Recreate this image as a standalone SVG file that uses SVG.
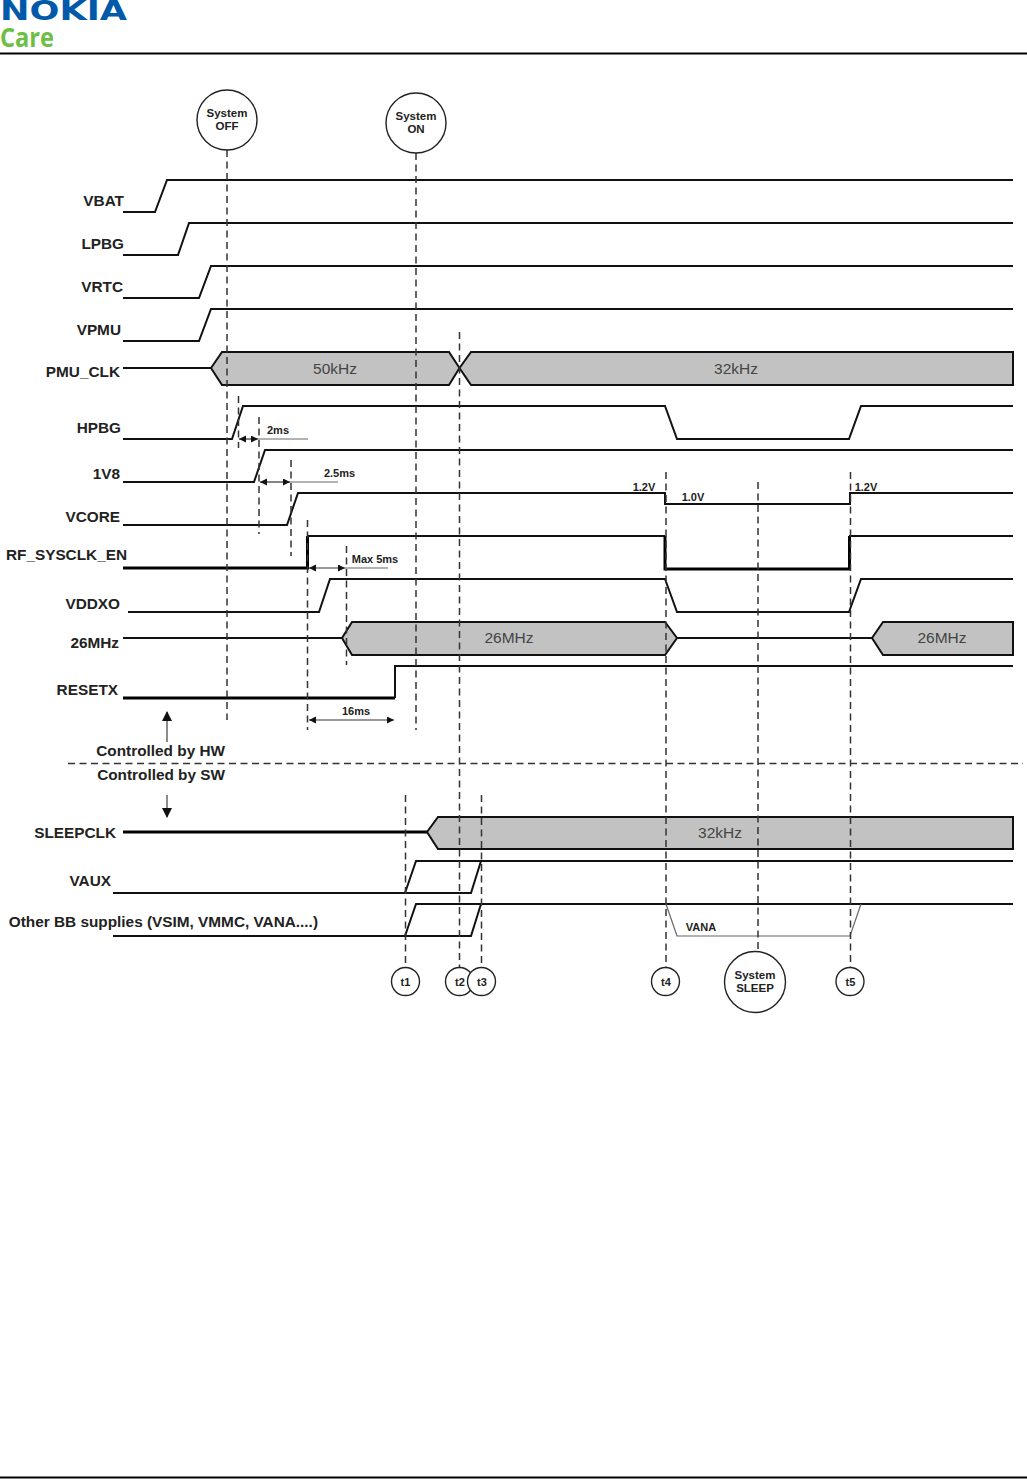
<svg xmlns="http://www.w3.org/2000/svg" width="1027" height="1479" viewBox="0 0 1027 1479">
<defs>
<marker id="ah" markerWidth="8" markerHeight="8" refX="7" refY="3.5" orient="auto-start-reverse" markerUnits="userSpaceOnUse"><path d="M0,0 L7,3.5 L0,7 Z" fill="#111"/></marker>
<marker id="big" markerWidth="10" markerHeight="12" refX="9" refY="5" orient="auto" markerUnits="userSpaceOnUse"><path d="M0,0 L10,5 L0,10 Z" fill="#111"/></marker>
</defs>
<style>
text{font-family:"Liberation Sans",Arial,sans-serif;fill:#222}
.lb{font-size:15.35px;font-weight:bold;text-anchor:end}
.sm{font-size:11px;font-weight:bold;text-anchor:middle}
.fr{font-size:15.5px;text-anchor:middle;fill:#444}
.cl{font-size:11.5px;font-weight:bold;text-anchor:middle}
.w{fill:none;stroke:#111;stroke-width:2}
.t{fill:none;stroke:#000;stroke-width:3}
.b{fill:#c2c2c2;stroke:#111;stroke-width:2;stroke-linejoin:miter}
.d{fill:none;stroke:#333;stroke-width:1.5;stroke-dasharray:7 4.5}
.g{fill:none;stroke:#666;stroke-width:1.2}
.a{fill:none;stroke:#333;stroke-width:1.2;marker-start:url(#ah);marker-end:url(#ah)}
.c{fill:#fff;stroke:#222;stroke-width:1.4}
</style>
<g id="header">
<text x="0" y="20" font-size="26" font-weight="bold" textLength="127" lengthAdjust="spacingAndGlyphs" style="fill:#005aa9;font-family:'DejaVu Sans',sans-serif">NOKIA</text>
<text x="0" y="47" font-size="27" font-weight="bold" textLength="54" lengthAdjust="spacingAndGlyphs" style="fill:#6cbe45;font-family:'Open Sans',sans-serif">Care</text>
<rect x="0" y="52.500" width="1027" height="2" fill="#000"/>
<rect x="0" y="1476.500" width="1027" height="2" fill="#000"/>
</g>
<g id="waveforms">
<path id="w-vbat" class="w" d="M123,212H155L167,180H1013"/>
<path id="w-lpbg" class="w" d="M123,255H178L189,223H1013"/>
<path id="w-vrtc" class="w" d="M123,298H199L211,266H1013"/>
<path id="w-vpmu" class="w" d="M123,341H199L211,309H1013"/>
<path class="w" d="M123,368H211"/>
<path id="w-pmu1" class="b" d="M211,368L222,352H449L459.500,368L449,385H222Z"/>
<path id="w-pmu2" class="b" d="M459.500,368L471,352H1013V385H471Z"/>
<path id="w-hpbg" class="w" d="M123,439H232L243,406H665L677,439H849L861,406H1013"/>
<path id="w-1v8" class="w" d="M123,482H254L265,450H1013"/>
<path id="w-vcore" class="w" d="M123,525H287L298,493H665V504H850V493H1013"/>
<path class="t" d="M123,568H307.500V536"/>
<path class="w" d="M307,536H665"/>
<path class="t" d="M665,536V569H849.500V536"/>
<path class="w" d="M849,536H1013"/>
<path id="w-vddxo" class="w" d="M128,612H319L330,579H665L677,612H849L861,579H1013"/>
<path class="w" d="M123,638H342"/>
<path id="w-26a" class="b" d="M342,638L352,622H665L677,638L665,655H352Z"/>
<path class="w" d="M677,638H872"/>
<path id="w-26b" class="b" d="M872,638L883,622H1013V655H883Z"/>
<path class="t" d="M123,698H395"/>
<path class="w" d="M395,698V666H1013"/>
<path class="t" d="M123,832H427"/>
<path id="w-sleepclk" class="b" d="M427,832L438,817H1013V849H438Z"/>
<path id="w-vaux" class="w" d="M113,893H471L481,861M405,893L416,861H1013"/>
<path id="w-other" class="w" d="M113,936H471L481,904M405,936L416,904H1013"/>
<path id="w-vana" class="g" d="M666,904L677,936H850L861,904"/>
</g>
<g id="connectors">
<path class="d" d="M227,150V720"/>
<path class="d" d="M416,153V730"/>
<path class="d" d="M459.500,332V968"/>
<path class="d" d="M238.500,396V448" stroke-dasharray="3 3"/>
<path class="d" d="M259,417V534"/>
<path class="d" d="M291,460V556"/>
<path class="d" d="M307.500,520V730"/>
<path class="d" d="M346.500,546V665"/>
<path class="d" d="M666,472V968"/>
<path class="d" d="M758,482V953"/>
<path class="d" d="M850.500,472V968"/>
<path class="d" d="M405.500,795V968"/>
<path class="d" d="M481.500,795V968"/>
<path class="d" d="M68,763.500H1023"/>
<path class="a" d="M239,439H258"/><path class="g" d="M258,439H308"/>
<path class="a" d="M260,482H290"/><path class="g" d="M290,482H338"/>
<path class="a" d="M309,568H345"/><path class="g" d="M345,568H388"/>
<path class="a" d="M309,720H394"/>
<path class="g" d="M167,742V712" marker-end="url(#big)" style="stroke-width:1.500"/>
<path class="g" d="M167,795V817" marker-end="url(#big)" style="stroke-width:1.500"/>
</g>
<g id="labels">
<text class="lb" x="124" y="205.500">VBAT</text>
<text class="lb" x="124" y="248.500">LPBG</text>
<text class="lb" x="123" y="291.500">VRTC</text>
<text class="lb" x="121" y="334.500">VPMU</text>
<text class="lb" x="120" y="376.500">PMU_CLK</text>
<text class="lb" x="121" y="432.500">HPBG</text>
<text class="lb" x="120" y="478.500">1V8</text>
<text class="lb" x="120" y="521.500">VCORE</text>
<text class="lb" x="127" y="559.500">RF_SYSCLK_EN</text>
<text class="lb" x="120" y="608.500">VDDXO</text>
<text class="lb" x="119" y="648">26MHz</text>
<text class="lb" x="118" y="694.500">RESETX</text>
<text class="lb" x="225" y="756">Controlled by HW</text>
<text class="lb" x="225" y="780">Controlled by SW</text>
<text class="lb" x="116" y="837.500">SLEEPCLK</text>
<text class="lb" x="111" y="886">VAUX</text>
<text class="lb" x="318" y="927">Other BB supplies (VSIM, VMMC, VANA....)</text>
<text class="fr" x="335" y="374">50kHz</text>
<text class="fr" x="736" y="374">32kHz</text>
<text class="fr" x="509" y="643">26MHz</text>
<text class="fr" x="942" y="643">26MHz</text>
<text class="fr" x="720" y="838">32kHz</text>
<text class="sm" x="278" y="434">2ms</text>
<text class="sm" x="339.500" y="477">2.5ms</text>
<text class="sm" x="375" y="563">Max 5ms</text>
<text class="sm" x="356" y="715">16ms</text>
<text class="sm" x="644" y="491">1.2V</text>
<text class="sm" x="693" y="501">1.0V</text>
<text class="sm" x="866" y="491">1.2V</text>
<text class="sm" x="701" y="931">VANA</text>
</g>
<g id="node-system-off"><circle class="c" cx="227" cy="120" r="30"/><text class="cl" x="227" y="117">System</text><text class="cl" x="227" y="130">OFF</text></g>
<g id="node-system-on"><circle class="c" cx="416" cy="123" r="30"/><text class="cl" x="416" y="120">System</text><text class="cl" x="416" y="133">ON</text></g>
<g id="node-t1"><circle class="c" cx="405.500" cy="981.500" r="14"/><text class="sm" x="405.500" y="985.500">t1</text></g>
<g id="node-t2"><circle class="c" cx="459.500" cy="981.500" r="14"/><text class="sm" x="460" y="985.500">t2</text></g>
<g id="node-t3"><circle class="c" cx="481.500" cy="981.500" r="14"/><text class="sm" x="482" y="985.500">t3</text></g>
<g id="node-t4"><circle class="c" cx="665.500" cy="981.500" r="14"/><text class="sm" x="666" y="985.500">t4</text></g>
<g id="node-t5"><circle class="c" cx="850" cy="981.500" r="14"/><text class="sm" x="850.500" y="985.500">t5</text></g>
<g id="node-system-sleep"><circle class="c" cx="755" cy="982" r="30.500"/><text class="cl" x="755" y="979">System</text><text class="cl" x="755" y="992">SLEEP</text></g>
</svg>
